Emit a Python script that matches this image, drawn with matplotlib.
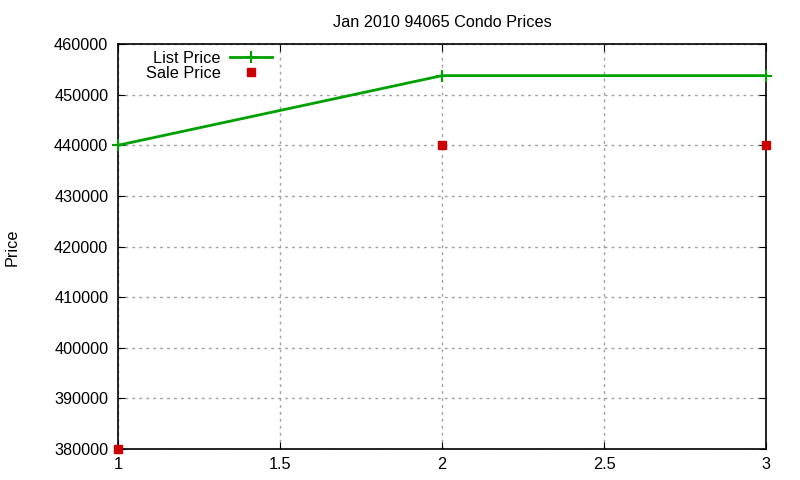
import matplotlib
matplotlib.use('Agg')
import matplotlib.pyplot as plt

plt.rcParams['font.family'] = ['Liberation Sans', 'DejaVu Sans']

x = [1, 2, 3]
list_price = [440000, 453750, 453750]
sale_price = [380000, 440000, 440000]

fig = plt.figure(figsize=(8, 4.8), dpi=100)
ax = fig.add_axes([0.1475, 0.0646, 0.81, 0.8437])

ax.plot(x, list_price, color='#00a000', lw=2, marker='+', ms=9, mew=1.5,
        label='List Price', clip_on=False, zorder=3)
ax.plot(x, sale_price, color='#cc0000', ls='none', marker='s', ms=6,
        label='Sale Price', clip_on=False, zorder=4)

ax.set_xlim(1, 3)
ax.set_ylim(380000, 460000)
ax.set_xticks([1, 1.5, 2, 2.5, 3])
ax.set_xticklabels(['1', '1.5', '2', '2.5', '3'])
ax.set_yticks(range(380000, 460001, 10000))
ax.tick_params(direction='in', top=True, right=True, labelsize=11.7, length=5)
ax.tick_params(axis='y', pad=7)
ax.tick_params(axis='x', pad=6)
ax.grid(True, color='#a0a0a0', ls=(0, (2, 3)), lw=1)
for s in ax.spines.values():
    s.set_linewidth(1.2)

ax.set_title('Jan 2010 94065 Condo Prices', fontsize=11.7, pad=12)
fig.text(12 / 800, 1 - 247 / 480, 'Price', fontsize=11.7, rotation=90,
         ha='center', va='center')

ax.legend(loc='upper left', bbox_to_anchor=(0.02, 1.02), frameon=False,
          markerfirst=False, fontsize=11.7, handlelength=2.6,
          labelspacing=0.0, handletextpad=0.6)

fig.savefig('out.png', dpi=100)
